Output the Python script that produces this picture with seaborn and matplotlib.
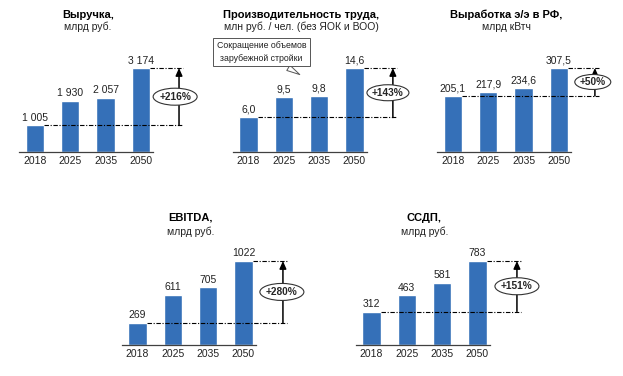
import matplotlib
matplotlib.use("Agg")
import matplotlib.pyplot as plt
from matplotlib.patches import Ellipse
import seaborn as sns

sns.set_style("white")
plt.rcParams['font.family'] = ['Liberation Sans', 'DejaVu Sans']

years = ['2018', '2025', '2035', '2050']

revenue = [1005, 1930, 2057, 3174]
revenue_lbl = ['1 005', '1 930', '2 057', '3 174']
productivity = [6.0, 9.5, 9.8, 14.6]
productivity_lbl = ['6,0', '9,5', '9,8', '14,6']
generation = [205.1, 217.9, 234.6, 307.5]
generation_lbl = ['205,1', '217,9', '234,6', '307,5']
ebitda = [269, 611, 705, 1022]
ebitda_lbl = ['269', '611', '705', '1022']
fcf = [312, 463, 581, 783]
fcf_lbl = ['312', '463', '581', '783']

titles = ['Выручка,', 'Производительность труда,', 'Выработка э/э в РФ,', 'EBITDA,', 'ССДП,']
subtitles = ['млрд руб.', 'млн руб. / чел. (без ЯОК и ВОО)', 'млрд кВтч', 'млрд руб.', 'млрд руб.']
growth = ['+216%', '+143%', '+50%', '+280%', '+151%']

BAR = '#3570B8'
W, H = 623, 376
UNIT = 35.3  # px per category

fig = plt.figure(figsize=(W / 100, H / 100), dpi=100)

# (values, labels, first bar centre px, baseline px from top, arrow x, ellipse x, ellipse w/h px)
panels = [
    (revenue, revenue_lbl, 35.0, 152, 4.08, 3.97, 44, 17),
    (productivity, productivity_lbl, 248.5, 152, 4.09, 3.95, 42, 16),
    (generation, generation_lbl, 453.0, 152, 4.02, 3.96, 36, 15),
    (ebitda, ebitda_lbl, 137.5, 345, 4.12, 4.09, 44, 17),
    (fcf, fcf_lbl, 371.5, 345, 4.12, 4.12, 44, 17),
]

AX_H = 100
x0, x1 = -0.45, 4.45

for i, (vals, lbls, cx, base, xa, xe, ew_px, eh_px) in enumerate(panels):
    left = cx + x0 * UNIT
    ax = fig.add_axes([left / W, (H - base) / H, (x1 - x0) * UNIT / W, AX_H / H])
    sns.barplot(x=years, y=vals, ax=ax, color=BAR, width=0.52, saturation=1)
    ymax = max(vals) * AX_H / 84
    ax.set_xlim(x0, x1)
    ax.set_ylim(0, ymax)
    ax.set_ylabel('')
    ax.set_xlabel('')
    ax.set_yticks([])
    for s in ['left', 'right', 'top']:
        ax.spines[s].set_visible(False)
    ax.spines['bottom'].set_bounds(x0, 3.35)
    ax.spines['bottom'].set_color('#404040')
    ax.spines['bottom'].set_linewidth(0.9)
    ax.tick_params(axis='x', length=0, pad=3, labelsize=7.5, colors='#222222')

    for j, (v, t) in enumerate(zip(vals, lbls)):
        ax.text(j, v + ymax * 0.025, t, ha='center', va='bottom', fontsize=7.5, color='#222222')

    # titles
    top_row = base < 200
    ty1, ty2 = (1.37, 1.25) if top_row else (1.27, 1.13)
    ax.text(1.5, ty1, titles[i], transform=ax.get_xaxis_transform(), ha='center', va='center',
            fontsize=8, fontweight='bold', color='black')
    ax.text(1.5, ty2, subtitles[i], transform=ax.get_xaxis_transform(), ha='center', va='center',
            fontsize=7.5, color='#222222')

    # dashed reference lines and growth arrow
    dash = (0, (4, 1.5, 1, 1.5))
    ax.plot([0.26, xa + 0.12], [vals[0], vals[0]], color='black', lw=0.8, ls=dash, clip_on=False)
    ax.plot([3.26, xa + 0.12], [vals[-1], vals[-1]], color='black', lw=0.8, ls=dash, clip_on=False)
    ax.annotate('', xy=(xa, vals[-1]), xytext=(xa, vals[0]),
                arrowprops=dict(arrowstyle='-|>,head_length=0.45,head_width=0.2', color='black', lw=1.1,
                                shrinkA=0, shrinkB=0))
    ymid = (vals[0] + vals[-1]) / 2
    ax.add_patch(Ellipse((xe, ymid), ew_px / UNIT, eh_px / AX_H * ymax, facecolor='white',
                         edgecolor='#333333', lw=0.8, clip_on=False, zorder=5))
    ax.text(xe, ymid, growth[i], ha='center', va='center', fontsize=7.3, fontweight='bold', zorder=6)

    if i == 1:
        ax.annotate('Сокращение объемов\nзарубежной стройки', xy=(1.52, 0.76), xycoords=('data', 'axes fraction'),
                    xytext=(0.37, 1.0), textcoords=('data', 'axes fraction'),
                    ha='center', va='center', fontsize=6.3, color='#222222', linespacing=1.45,
                    bbox=dict(boxstyle='square,pad=0.4', fc='white', ec='#555555', lw=0.7),
                    arrowprops=dict(arrowstyle='wedge,tail_width=0.7', fc='white', ec='#555555', lw=0.7))

fig.savefig('out.png', dpi=100)
